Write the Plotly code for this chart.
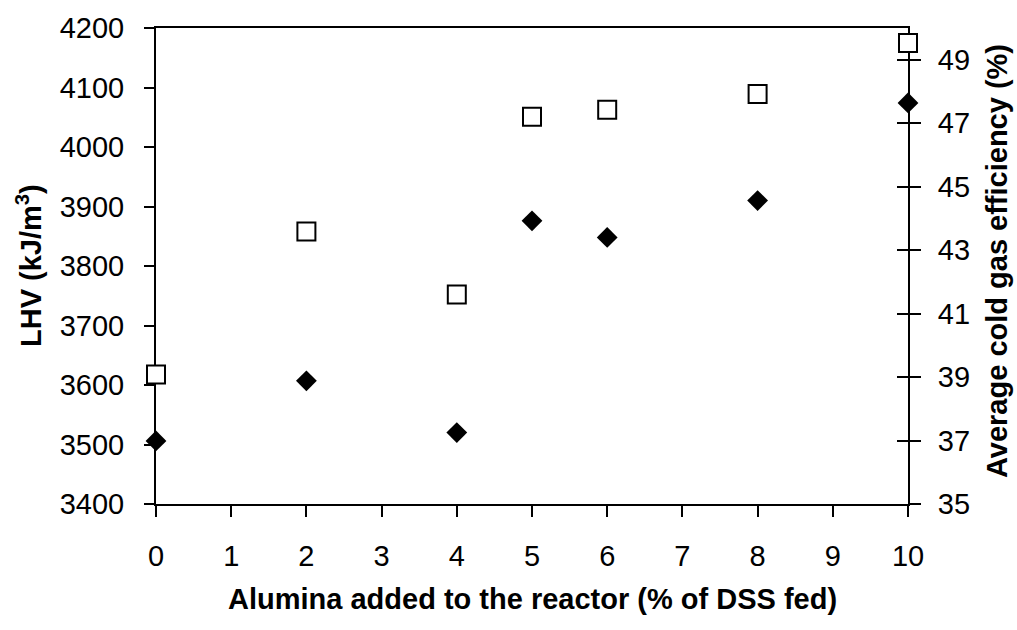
import plotly.graph_objects as go

alumina = [0, 2, 4, 5, 6, 8, 10]
lhv = [3506, 3607, 3520, 3876, 3848, 3910, 4074]
efficiency = [39.08, 43.59, 41.60, 47.20, 47.42, 47.92, 49.53]

x_ticks = list(range(0, 11))
lhv_ticks = list(range(3400, 4201, 100))
eff_ticks = list(range(35, 50, 2))

FONT = "Arial, Liberation Sans, sans-serif"
W, H = 1017, 630
L, R, T, B = 156, 109, 22, 126
pw, ph = W - L - R, H - T - B

fig = go.Figure()
fig.add_trace(go.Scatter(
    x=alumina, y=lhv, mode="markers", yaxis="y", cliponaxis=False,
    marker=dict(symbol="diamond", size=16, color="black", line=dict(width=0)),
    showlegend=False))
fig.add_trace(go.Scatter(
    x=alumina, y=efficiency, mode="markers", yaxis="y2", cliponaxis=False,
    marker=dict(symbol="square", size=18, color="white", line=dict(width=2, color="black")),
    showlegend=False))

tickfont = dict(family=FONT, size=29, color="black")
fig.update_layout(
    width=W, height=H,
    margin=dict(l=L, r=R, t=T, b=B, pad=0),
    paper_bgcolor="white", plot_bgcolor="white",
    xaxis=dict(range=[0, 10], tickvals=x_ticks, ticks="outside", ticklen=11, tickwidth=1.5,
               tickcolor="black", showline=True, linecolor="black", linewidth=2, mirror=True,
               showgrid=False, zeroline=False, tickfont=tickfont, ticklabelstandoff=14,
               layer="below traces"),
    yaxis=dict(range=[3400, 4200], tickvals=lhv_ticks, ticks="outside", ticklen=10, tickwidth=1.5,
               tickcolor="black", showline=True, linecolor="black", linewidth=2,
               showgrid=False, zeroline=False, tickfont=tickfont, ticklabelstandoff=14,
               layer="below traces"),
    yaxis2=dict(range=[35, 50], tickvals=eff_ticks, ticks="outside", ticklen=11, tickwidth=1.5,
                tickcolor="black", showline=True, linecolor="black", linewidth=2,
                side="right", overlaying="y", anchor="x",
                showgrid=False, zeroline=False, tickfont=tickfont, ticklabelstandoff=11,
                layer="below traces"),
    yaxis3=dict(range=[35, 50], tickvals=eff_ticks, ticks="inside", ticklen=11, tickwidth=1.5,
                tickcolor="black", showline=False, showticklabels=False,
                side="right", overlaying="y", anchor="x",
                showgrid=False, zeroline=False, layer="below traces"),
)
# empty trace to activate the tick-only overlay axis
fig.add_trace(go.Scatter(x=[None], y=[None], yaxis="y3", showlegend=False, hoverinfo="skip"))

titlefont = dict(family=FONT, size=29, color="black")
fig.add_annotation(text="<b>Alumina added to the reactor (% of DSS fed)</b>",
                   xref="paper", yref="paper", x=(532 - L) / pw, y=(T + ph - 600) / ph,
                   xanchor="center", yanchor="middle", showarrow=False, font=titlefont)
fig.add_annotation(text="<b>LHV (kJ/m<sup>3</sup>)</b>",
                   xref="paper", yref="paper", x=(29 - L) / pw, y=(T + ph - 263) / ph,
                   xanchor="center", yanchor="middle", showarrow=False, textangle=-90, font=titlefont)
fig.add_annotation(text="<b>Average cold gas efficiency (%)</b>",
                   xref="paper", yref="paper", x=(997 - L) / pw, y=(T + ph - 258) / ph,
                   xanchor="center", yanchor="middle", showarrow=False, textangle=-90, font=titlefont)

fig.write_html("out.html")
